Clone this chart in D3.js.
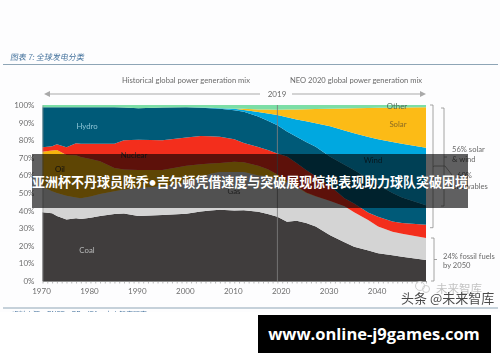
<!DOCTYPE html>
<html>
<head>
<meta charset="utf-8">
<script src="https://cdn.jsdelivr.net/npm/d3@7"></script>
<style>
    html, body { margin: 0; padding: 0; background: #fff; }
    svg { display: block; }
    text { font-family: Lato, "Noto Sans", sans-serif; }
    .cjk { font-family: "Noto Sans CJK SC", sans-serif; }
</style>
</head>
<body>
<div id="viewport"></div>
<script>
// Upper edge of each layer, in cumulative % of generation
var years = [1970, 1972, 1973, 1975, 1977, 1978, 1980, 1982, 1985, 1987, 1990, 1995, 2000, 2003, 2005, 2007, 2010, 2012, 2015, 2017, 2019, 2021, 2023, 2025, 2027, 2030, 2033, 2035, 2038, 2040, 2043, 2045, 2050];
var coalTop = [39, 38.5, 37, 35, 35.6, 35.2, 36, 37, 38, 38.3, 37, 37.5, 38.2, 39.5, 40, 40.5, 40, 40.2, 39.3, 38, 36.5, 33.7, 34.3, 33, 31, 26, 22, 19.5, 17.3, 15.8, 14.6, 13.8, 12];
var gasTop = [53.6, 51, 50, 48.5, 47.5, 47, 48, 49.5, 51, 52, 52.8, 53.8, 56, 59, 61, 62, 62, 62, 60, 59.5, 58, 56, 53.5, 50, 48, 45.5, 42.5, 39, 34.5, 31, 28, 26.8, 24.4];
var oilTop = [73.5, 74.2, 74.4, 71.6, 71.4, 70.5, 69.3, 68, 64.2, 63.3, 63, 63, 65.5, 66.3, 66.7, 67, 67.8, 67.5, 65.5, 63.5, 60.5, 57.2, 54, 50.3, 48.1, 45.5, 42.5, 39, 34.5, 31, 28, 26.8, 24.4];
var nuclearTop = [76, 76.5, 77.7, 76, 78.2, 78, 78, 78, 78, 80, 80.2, 80, 81.5, 82.4, 82.2, 82, 80.5, 78.4, 76.2, 74.5, 72.5, 70.8, 67, 63, 59.5, 54, 47, 44, 38.8, 36.5, 33.8, 33, 32];
var hydroTop = [98.7, 98.7, 98.7, 98.7, 98.7, 98.7, 98.7, 98.7, 98.7, 98.6, 98.2, 98.6, 98.7, 98.5, 98.1, 97.8, 97, 96.2, 93.4, 91, 88.5, 85, 82, 79, 76.3, 70.6, 66, 63, 58, 54.5, 50, 47.5, 43];
var windTop = [98.7, 98.7, 98.7, 98.7, 98.7, 98.7, 98.7, 98.7, 98.7, 98.6, 98.2, 98.6, 98.7, 98.6, 98.4, 98.2, 97.8, 97.2, 96, 95.2, 94.3, 93, 91.8, 90.8, 89.7, 87.9, 85.5, 84, 81.8, 80.5, 79, 78, 75.7];
var solarTop = [98.7, 98.7, 98.7, 98.7, 98.7, 98.7, 98.7, 98.7, 98.7, 98.6, 98.2, 98.6, 98.7, 98.6, 98.4, 98.2, 97.9, 97.8, 97.5, 97.4, 97.3, 97.4, 97.5, 97.6, 97.7, 97.8, 98, 98.2, 98.3, 98.4, 98.5, 98.6, 98.7];
var otherTop = [100, 100, 100, 100, 100, 100, 100, 100, 100, 100, 100, 100, 100, 100, 100, 100, 100, 100, 100, 100, 100, 100, 100, 100, 100, 100, 100, 100, 100, 100, 100, 100, 100];

var layerNames = ["Coal", "Gas", "Oil", "Nuclear", "Hydro", "Wind", "Solar", "Other"];
var layerTops = [coalTop, gasTop, oilTop, nuclearTop, hydroTop, windTop, solarTop, otherTop];
var layerColors = ["#403e3e", "#d4d4d4", "#f7b50c", "#f32f1d", "#005a78", "#02a8e0", "#fcbb16", "#7bdea6"];

var percentTicks = [0, 10, 20, 30, 40, 50, 60, 70, 80, 90, 100];
var decadeTicks = [1970, 1980, 1990, 2000, 2010, 2020, 2030, 2040];
var splitYear = 2019;

// Board
var boardWidth = 500;
var boardHeight = 362;

var svg = d3.select("#viewport").append("svg")
    .attr("width", boardWidth)
    .attr("height", boardHeight)
    .attr("viewBox", "0 0 " + boardWidth + " " + boardHeight);

var defs = svg.append("defs");
defs.append("filter").attr("id", "soft")
    .attr("x", 0).attr("y", 0).attr("width", 1).attr("height", 1)
    .attr("filterUnits", "objectBoundingBox")
    .append("feGaussianBlur").attr("stdDeviation", 0.35);

var page = svg.append("g").attr("filter", "url(#soft)");
page.append("rect").attr("width", boardWidth).attr("height", boardHeight).attr("fill", "#fdfdfe");

// Scales
var xScale = d3.scaleLinear().domain([1970, 2050]).range([42.5, 426]);
var yScale = d3.scaleLinear().domain([0, 100]).range([281, 105]);

// Header
page.append("text").attr("class", "cjk")
    .attr("x", 10).attr("y", 60)
    .attr("transform", "skewX(-10) translate(10.5,0)")
    .attr("font-size", 8).attr("fill", "#44729c")
    .text("图表 7: 全球发电分类");
page.append("line").attr("x1", 3).attr("x2", 498).attr("y1", 64.5).attr("y2", 64.5)
    .attr("stroke", "#8ea5b6").attr("stroke-width", 1);

// Stacked layers
layerTops.forEach(function (tops, i) {
    var area = d3.area()
        .x(function (d, j) { return xScale(years[j]); })
        .y0(function (d, j) { return yScale(i === 0 ? 0 : layerTops[i - 1][j]); })
        .y1(function (d) { return yScale(d); });
    page.append("path").datum(tops)
        .attr("class", "layer-" + layerNames[i])
        .attr("fill", layerColors[i])
        .attr("d", area);
});

// Axes
var gridColor = "#8b8b8b";
var xMinor = page.append("g")
    .attr("transform", "translate(0," + yScale(0) + ")")
    .call(d3.axisBottom(xScale).ticks(80).tickFormat("").tickSize(2.5).tickSizeOuter(0));
xMinor.select(".domain").attr("stroke", gridColor);
xMinor.selectAll("line").attr("stroke", gridColor).attr("stroke-width", 0.6);

var xAxis = page.append("g")
    .attr("transform", "translate(0," + yScale(0) + ")")
    .call(d3.axisBottom(xScale).tickValues(decadeTicks).tickFormat(d3.format("d")).tickSize(0).tickPadding(7));
xAxis.select(".domain").remove();
xAxis.selectAll("text")
    .attr("font-size", 8).attr("fill", "#6e6e6e").attr("font-family", "Lato, sans-serif")
    .attr("dx", -1.5);

var yAxis = page.append("g")
    .attr("transform", "translate(42.5,0)")
    .call(d3.axisLeft(yScale).tickValues(percentTicks).tickFormat(function (d) { return d + "%"; }).tickSize(0).tickPadding(8));
yAxis.select(".domain").attr("stroke", gridColor).attr("stroke-width", 0.6);
yAxis.selectAll("text")
    .attr("font-size", 8).attr("fill", "#6e6e6e").attr("font-family", "Lato, sans-serif");

// 2019 divider
page.append("line")
    .attr("x1", xScale(splitYear)).attr("x2", xScale(splitYear))
    .attr("y1", yScale(100)).attr("y2", yScale(0))
    .attr("stroke", "#7d7d7d").attr("stroke-width", 1).attr("opacity", 0.85);

// Period arrows and headings
var labelGrey = "#6a6a6a";
function addText(label, x, y, size, fill, anchor) {
    return page.append("text").attr("x", x).attr("y", y)
        .attr("font-size", size).attr("fill", fill)
        .attr("text-anchor", anchor || "start").text(label);
}
addText("Historical global power generation mix", 122, 83, 7.6, labelGrey);
addText("NEO 2020  global power generation mix", 290, 83, 7.6, labelGrey);
addText("2019", 277, 97, 8, labelGrey, "middle");

var arrowColor = "#a9a9a9";
page.append("line").attr("x1", 50).attr("x2", 260).attr("y1", 94).attr("y2", 94).attr("stroke", arrowColor);
page.append("line").attr("x1", 292).attr("x2", 420).attr("y1", 94).attr("y2", 94).attr("stroke", arrowColor);
page.append("path").attr("d", d3.line()([[44, 94], [50, 91], [50, 97]]) + "Z").attr("fill", arrowColor);
page.append("path").attr("d", d3.line()([[426, 94], [420, 91], [420, 97]]) + "Z").attr("fill", arrowColor);

// Layer labels
addText("Hydro", 87, 129, 7.8, "#8cc4d6", "middle");
addText("Nuclear", 134, 158, 7.8, "#2e2a2a", "middle");
addText("Oil", 60, 172, 7.8, "#2e2a2a", "middle");
addText("Gas", 234, 194, 7.8, "#555", "middle");
addText("Wind", 373, 163, 7.8, "#14384a", "middle");
addText("Solar", 398, 127, 7.8, "#8a6a24", "middle");
addText("Other", 397, 109, 7.8, "#4d6a55", "middle");
addText("Coal", 87, 253, 7.8, "#b9b9b9", "middle");

// Brackets on the right
function bracket(x, y0, y1, tipX) {
    var mid = (y0 + y1) / 2;
    var d = "M" + x + "," + y0 + "H" + (x + 3) + "V" + y1 + "H" + x +
        "M" + (x + 3) + "," + mid + "H" + tipX;
    page.append("path").attr("d", d).attr("fill", "none").attr("stroke", "#8d8d8d").attr("stroke-width", 0.8);
}
bracket(430, 105, 227.7, 434);
bracket(441, 108, 206, 447);
bracket(431, 238, 281, 437);
page.append("path").attr("d", "M434,166L445,166L452,175").attr("fill", "none").attr("stroke", "#8d8d8d").attr("stroke-width", 0.8);

addText("56% solar", 452, 152, 7.6, labelGrey);
addText("& wind", 452, 162, 7.6, labelGrey);
addText("60%", 457, 178, 7.6, labelGrey);
addText("renewables", 450, 189, 7.6, labelGrey);
addText("24% fossil fuels", 443, 259, 7.6, labelGrey);
addText("by 2050", 443, 268, 7.6, labelGrey);

// Footer rule and the cut off source line
page.append("line").attr("x1", 3).attr("x2", 498).attr("y1", 308).attr("y2", 308)
    .attr("stroke", "#8ea5b6").attr("stroke-width", 1);
page.append("text").attr("class", "cjk")
    .attr("x", 12).attr("y", 317).attr("font-size", 7).attr("fill", "#44729c")
    .text("资料来源：BNEF、BP、IEA，未来智库研究");
page.append("rect").attr("x", 0).attr("y", 312).attr("width", boardWidth).attr("height", 50).attr("fill", "#fff");

// Watermarks
page.append("circle").attr("cx", 420).attr("cy", 286).attr("r", 4.5).attr("fill", "none").attr("stroke", "#cfcfcf");
page.append("circle").attr("cx", 426).attr("cy", 289).attr("r", 3.5).attr("fill", "none").attr("stroke", "#cfcfcf");
page.append("text").attr("class", "cjk")
    .attr("x", 436).attr("y", 293).attr("font-size", 11.5).attr("fill", "#c4c4c4")
    .text("未来智库");
page.append("text").attr("class", "cjk")
    .attr("x", 401).attr("y", 303).attr("font-size", 13).attr("fill", "#2b2b2b").attr("opacity", 0.85)
    .text("头条 @未来智库");

// Headline banner
svg.append("rect").attr("x", 32).attr("y", 154).attr("width", 436).attr("height", 54)
    .attr("fill", "#000").attr("opacity", 0.62);
var headline = svg.append("text").attr("class", "cjk")
    .attr("x", 32).attr("y", 187)
    .attr("font-size", 13.2).attr("font-weight", 700).attr("fill", "#fff")
    .attr("textLength", 436).attr("lengthAdjust", "spacingAndGlyphs");
headline.append("tspan").text("亚洲杯不丹球员陈乔");
headline.append("tspan").style("font-family", "Lato, sans-serif").text("•");
headline.append("tspan").text("吉尔顿凭借速度与突破展现惊艳表现助力球队突破困境");

// Site banner
svg.append("rect").attr("x", 258).attr("y", 315).attr("width", 233).attr("height", 38).attr("fill", "#000");
svg.append("text")
    .attr("x", 374).attr("y", 340)
    .attr("text-anchor", "middle")
    .attr("font-size", 16.5).attr("font-weight", 700).attr("fill", "#fff")
    .style("font-family", "'Open Sans', sans-serif")
    .text("www.online-j9games.com");
</script>
</body>
</html>
